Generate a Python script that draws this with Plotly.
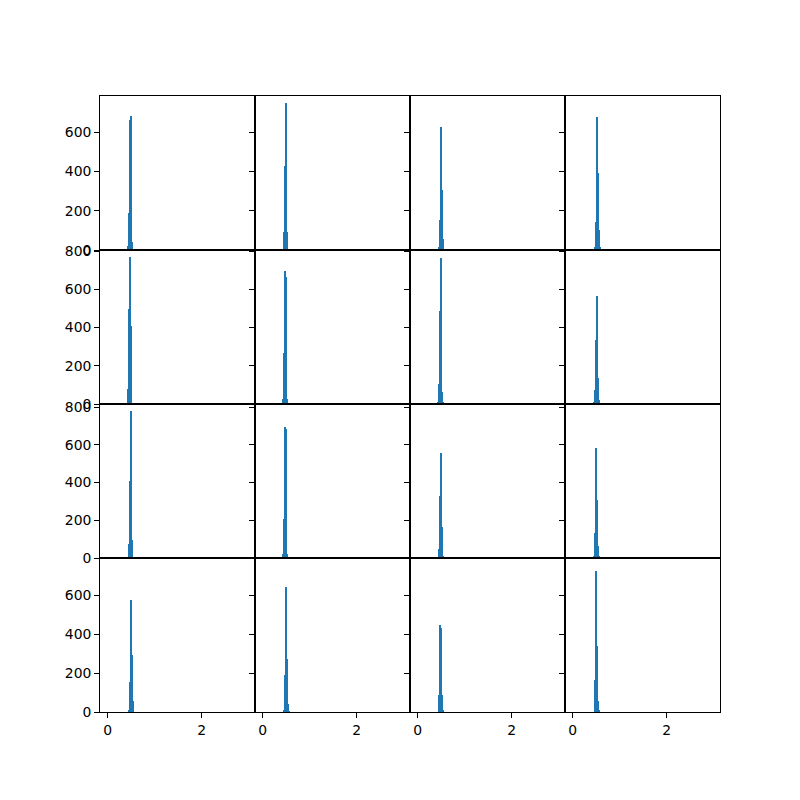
import plotly.graph_objects as go
from plotly.subplots import make_subplots

# Histogram data: per panel, left edge of first bin and bin counts
BIN_WIDTH = 0.0213
starts = [
    [0.410, 0.410, 0.432, 0.453],
    [0.410, 0.410, 0.410, 0.432],
    [0.410, 0.410, 0.432, 0.432],
    [0.432, 0.432, 0.432, 0.453],
]
counts = [
    [[22, 187, 663, 683, 39], [5, 93, 427, 751, 93, 5], [14, 152, 628, 304, 56], [14, 143, 678, 390, 101, 14]],
    [[78, 497, 770, 408, 5], [28, 267, 696, 664, 28], [10, 105, 487, 764, 63, 10], [10, 73, 335, 565, 136, 21]],
    [[5, 74, 408, 780, 95, 5], [21, 207, 695, 684, 21], [48, 329, 557, 164, 11], [10, 133, 583, 308, 64, 8]],
    [[10, 154, 574, 292, 56], [10, 190, 641, 272, 41, 5], [87, 446, 431, 87, 10], [164, 725, 338, 56, 10]],
]
x_range = [-0.165, 3.135]
y_max_per_row = [785, 806, 817, 790]
x_ticks = [0, 2]
y_ticks = [0, 200, 400, 600, 800]

fig = make_subplots(rows=4, cols=4, horizontal_spacing=0, vertical_spacing=0)

font = dict(family="DejaVu Sans", size=13.9, color="black")

for r in range(4):
    for c in range(4):
        cnt = counts[r][c]
        s = starts[r][c]
        xs = [s + (k + 0.5) * BIN_WIDTH for k in range(len(cnt))]
        fig.add_trace(
            go.Bar(x=xs, y=cnt, width=BIN_WIDTH, marker=dict(color="#1f77b4", line=dict(width=0)),
                   showlegend=False, hoverinfo="skip"),
            row=r + 1, col=c + 1,
        )
        fig.update_xaxes(
            range=x_range, tickvals=x_ticks, ticktext=[str(v) for v in x_ticks],
            showticklabels=(r == 3), ticks=("outside" if r == 3 else ""), ticklen=4.9, tickwidth=1,
            tickcolor="black",
            showline=True, linecolor="black", linewidth=1, mirror=True, showgrid=False, zeroline=False,
            tickfont=font, row=r + 1, col=c + 1,
        )
        fig.update_yaxes(
            range=[0, y_max_per_row[r]], tickvals=y_ticks, ticktext=[str(v) for v in y_ticks],
            showticklabels=(c == 0), ticks="outside", ticklen=4.9, tickwidth=1, tickcolor="black",
            showline=True, linecolor="black", linewidth=1, mirror=True, showgrid=False, zeroline=False,
            tickfont=font, row=r + 1, col=c + 1,
        )

fig.update_layout(
    width=800, height=800,
    margin=dict(l=92, r=88, t=88, b=96, pad=0, autoexpand=False),
    plot_bgcolor="white", paper_bgcolor="white",
    bargap=0, font=font,
)

fig.write_html("out.html")
